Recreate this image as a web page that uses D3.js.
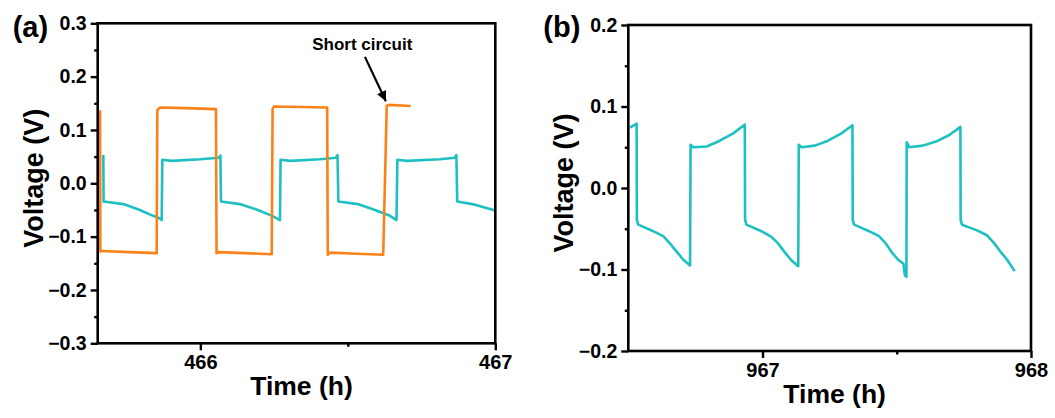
<!DOCTYPE html>
<html>
<head>
<meta charset="utf-8">
<script src="https://cdn.jsdelivr.net/npm/d3@7"></script>
<style>
  html, body { margin: 0; padding: 0; background: #fff; }
  text { font-family: "Liberation Sans", Arial, sans-serif; font-weight: bold; fill: #000; }
</style>
</head>
<body>
<svg id="chart" width="1055" height="418"></svg>
<script>
// panel (a): orange cell (short circuit) and cyan cell
const timeOrangeA = [465.660, 465.661, 465.666, 465.760, 465.852, 465.854, 465.863, 465.950, 466.053, 466.055,
  466.060, 466.150, 466.242, 466.245, 466.250, 466.340, 466.430, 466.432, 466.440, 466.530,
  466.620, 466.632, 466.640, 466.713];
const voltOrangeA = [0.137, -0.128, -0.127, -0.129, -0.131, 0.137, 0.142, 0.141, 0.139, -0.131,
  -0.129, -0.131, -0.133, 0.140, 0.144, 0.143, 0.142, -0.134, -0.130, -0.132,
  -0.134, 0.146, 0.147, 0.145];

const timeCyanA = [465.671, 465.672, 465.739, 465.795, 465.840, 465.863, 465.869, 465.871, 465.903, 466.000,
  466.063, 466.068, 466.070, 466.134, 466.195, 466.243, 466.270, 466.272, 466.304, 466.406,
  466.460, 466.465, 466.468, 466.534, 466.592, 466.643, 466.665, 466.668, 466.700, 466.812,
  466.863, 466.868, 466.871, 466.931, 467.000];
const voltCyanA = [0.053, -0.034, -0.039, -0.050, -0.061, -0.066, -0.069, 0.044, 0.042, 0.045,
  0.048, 0.052, -0.034, -0.039, -0.050, -0.061, -0.069, 0.044, 0.042, 0.045,
  0.048, 0.053, -0.034, -0.039, -0.050, -0.061, -0.069, 0.044, 0.042, 0.045,
  0.048, 0.053, -0.034, -0.040, -0.051];

// panel (b): cyan cell later in cycling
const timeCyanB = [966.506, 966.531, 966.532, 966.537, 966.593, 966.630, 966.655, 966.680, 966.705, 966.730,
  966.732, 966.742, 966.792, 966.841, 966.891, 966.934,
  966.935, 966.940, 966.996, 967.033, 967.058, 967.083, 967.108, 967.133,
  967.135, 967.145, 967.195, 967.244, 967.294, 967.335,
  967.336, 967.341, 967.397, 967.434, 967.459, 967.484, 967.505, 967.525, 967.530, 967.536,
  967.537, 967.547, 967.597, 967.646, 967.696, 967.737,
  967.738, 967.743, 967.799, 967.836, 967.861, 967.886, 967.911, 967.939];
const voltCyanB = [0.074, 0.079, -0.039, -0.045, -0.053, -0.059, -0.068, -0.078, -0.088, -0.095,
  0.053, 0.050, 0.051, 0.058, 0.067, 0.078,
  -0.039, -0.045, -0.053, -0.060, -0.068, -0.079, -0.089, -0.096,
  0.053, 0.050, 0.052, 0.058, 0.067, 0.077,
  -0.039, -0.045, -0.053, -0.059, -0.068, -0.080, -0.088, -0.093, -0.107, -0.109,
  0.056, 0.050, 0.052, 0.057, 0.065, 0.075,
  -0.039, -0.045, -0.052, -0.058, -0.067, -0.078, -0.088, -0.102];

const xTicksA = [466, 467];
const xMinorA = [466.5];
const yTicksA = [-0.3, -0.2, -0.1, 0.0, 0.1, 0.2, 0.3];
const yMinorA = [-0.25, -0.15, -0.05, 0.05, 0.15, 0.25];
const xTicksB = [967, 968];
const xMinorB = [967.5];
const yTicksB = [-0.2, -0.1, 0.0, 0.1, 0.2];
const yMinorB = [-0.15, -0.05, 0.05, 0.15];

const ORANGE = "#FA8219";
const CYAN = "#1EC0C2";

const svg = d3.select("#chart");

function zip(ts, vs) { return ts.map((t, i) => ({ t, v: vs[i] })); }

function drawPanel(cfg) {
  const x = d3.scaleLinear().domain(cfg.xDomain).range([cfg.left, cfg.right]);
  const y = d3.scaleLinear().domain(cfg.yDomain).range([cfg.bottom, cfg.top]);
  const g = svg.append("g");

  const line = d3.line().x(d => x(d.t)).y(d => y(d.v));
  cfg.series.forEach(s => {
    g.append("path")
      .datum(s.data)
      .attr("fill", "none")
      .attr("stroke", s.color)
      .attr("stroke-width", 2.6)
      .attr("stroke-linejoin", "round")
      .attr("d", line);
  });

  // frame
  g.append("rect")
    .attr("x", cfg.left).attr("y", cfg.top)
    .attr("width", cfg.right - cfg.left).attr("height", cfg.bottom - cfg.top)
    .attr("fill", "none").attr("stroke", "#000").attr("stroke-width", 2.6);

  // y axis
  const yAx = g.append("g").attr("transform", `translate(${cfg.left},0)`)
    .call(d3.axisLeft(y).tickValues(cfg.yTicks).tickSize(7).tickPadding(4)
      .tickFormat(d => d3.format(".1f")(d).replace("-", "\u2212")));
  const yMin = g.append("g").attr("transform", `translate(${cfg.left},0)`)
    .call(d3.axisLeft(y).tickValues(cfg.yMinor).tickSize(3.5).tickFormat(""));

  // x axis
  const xAx = g.append("g").attr("transform", `translate(0,${cfg.bottom})`)
    .call(d3.axisBottom(x).tickValues(cfg.xTicks).tickSize(7).tickPadding(5).tickFormat(d3.format("d")));
  const xMin = g.append("g").attr("transform", `translate(0,${cfg.bottom})`)
    .call(d3.axisBottom(x).tickValues(cfg.xMinor).tickSize(3.5).tickFormat(""));

  [yAx, yMin, xAx, xMin].forEach(a => {
    a.select(".domain").remove();
    a.selectAll("line").attr("stroke", "#000").attr("stroke-width", 2.4);
  });
  yAx.selectAll("text").attr("font-size", 19.5).attr("font-family", null);
  xAx.selectAll("text").attr("font-size", 20).attr("font-family", null);

  g.append("text")
    .attr("x", (cfg.left + cfg.right) / 2 + 5)
    .attr("y", cfg.bottom + 52)
    .attr("text-anchor", "middle")
    .attr("font-size", 26.5)
    .text("Time (h)");

  g.append("text")
    .attr("transform", `translate(${cfg.left - 55},${(cfg.top + cfg.bottom) / 2 - 5}) rotate(-90)`)
    .attr("text-anchor", "middle")
    .attr("font-size", 27)
    .text("Voltage (V)");

  g.append("text")
    .attr("x", cfg.left - 85)
    .attr("y", 37)
    .attr("font-size", 29)
    .text(cfg.tag);

  return { x, y, g };
}

const pa = drawPanel({
  left: 97.7, right: 495.3, top: 23.3, bottom: 343.3,
  xDomain: [465.652, 467], yDomain: [-0.3, 0.3],
  xTicks: xTicksA, xMinor: xMinorA, yTicks: yTicksA, yMinor: yMinorA,
  tag: "(a)",
  series: [
    { data: zip(timeCyanA, voltCyanA), color: CYAN },
    { data: zip(timeOrangeA, voltOrangeA), color: ORANGE }
  ]
});

drawPanel({
  left: 628.3, right: 1031, top: 25, bottom: 351,
  xDomain: [966.5, 968], yDomain: [-0.2, 0.2],
  xTicks: xTicksB, xMinor: xMinorB, yTicks: yTicksB, yMinor: yMinorB,
  tag: "(b)",
  series: [{ data: zip(timeCyanB, voltCyanB), color: CYAN }]
});

// short circuit annotation
const defs = svg.append("defs");
defs.append("marker")
  .attr("id", "arrow")
  .attr("viewBox", "0 0 10 10")
  .attr("refX", 10).attr("refY", 5)
  .attr("markerWidth", 5).attr("markerHeight", 4.5)
  .attr("markerUnits", "strokeWidth")
  .attr("orient", "auto")
  .append("path").attr("d", "M0,0 L10,5 L0,10 Z").attr("fill", "#000");

pa.g.append("text")
  .attr("x", pa.x(466.549)).attr("y", pa.y(0.25))
  .attr("text-anchor", "middle")
  .attr("font-size", 17)
  .text("Short circuit");

pa.g.append("line")
  .attr("x1", pa.x(466.558)).attr("y1", pa.y(0.237))
  .attr("x2", pa.x(466.629)).attr("y2", pa.y(0.154))
  .attr("stroke", "#000").attr("stroke-width", 2.2)
  .attr("marker-end", "url(#arrow)");
</script>
</body>
</html>
